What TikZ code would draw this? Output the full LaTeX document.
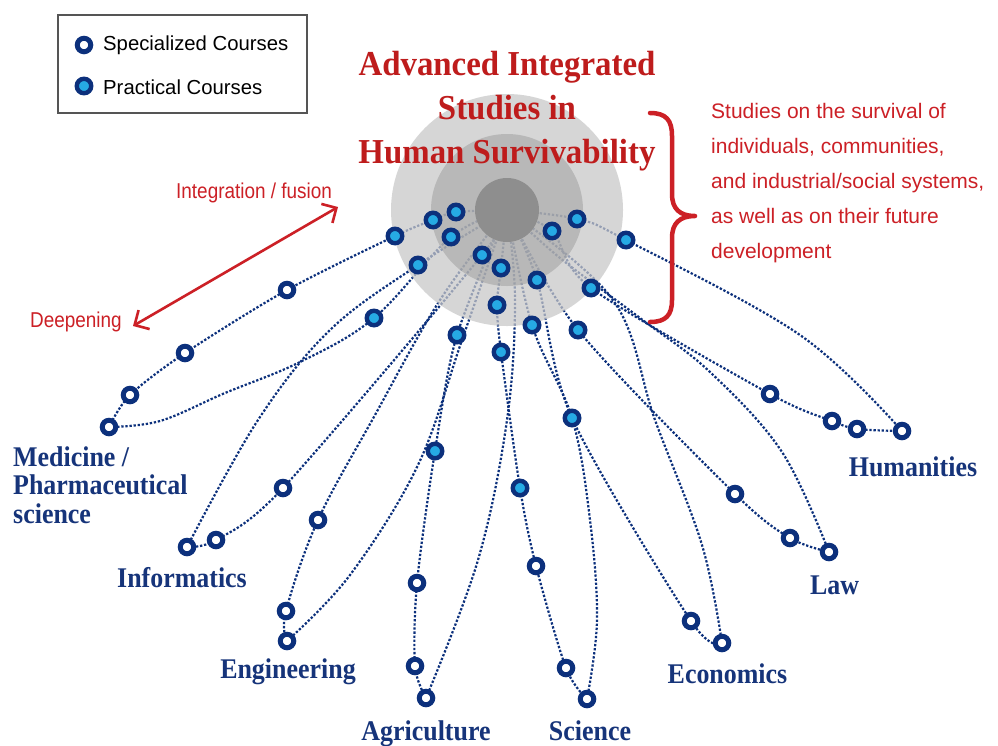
\documentclass[tikz,border=0pt]{standalone}
\usepackage{fontspec}
\setmainfont{Liberation Sans}
\newfontfamily\labelfont[FakeStretch=0.91]{Liberation Serif}
\newfontfamily\titlefont[FakeStretch=0.94]{Liberation Serif}
\newfontfamily\condfont[FakeStretch=0.88]{Liberation Sans}
\usetikzlibrary{arrows.meta}
\pgfdeclarelayer{lines}
\pgfdeclarelayer{discs}
\pgfsetlayers{lines,discs,main}
\definecolor{navy}{RGB}{12,48,124}
\definecolor{lblue}{RGB}{38,170,228}
\definecolor{labnavy}{RGB}{22,52,122}
\definecolor{redtxt}{RGB}{204,32,38}
\definecolor{titlered}{RGB}{190,28,28}
\definecolor{discA}{RGB}{200,200,200}
\definecolor{discB}{RGB}{160,160,160}
\definecolor{discC}{RGB}{142,142,142}
\definecolor{framegray}{RGB}{85,85,85}
\tikzset{
  spec/.style={circle, draw=navy, fill=white, line width=5pt, minimum size=13.5pt, inner sep=0pt},
  prac/.style={circle, draw=navy, fill=lblue, line width=4.4pt, minimum size=14.5pt, inner sep=0pt},
  strand/.style={draw=navy, line width=2.2pt, dash pattern=on 2.3pt off 1.8pt},
  disclabel/.style={text=labnavy, font={\labelfont\bfseries\fontsize{28.5}{28.5}\selectfont}, inner sep=0pt},
  legtext/.style={font={\fontsize{20.3}{24}\selectfont}, text=black, inner sep=0pt, anchor=west},
  redlab/.style={text=redtxt, font={\condfont\fontsize{21.5}{24}\selectfont}, inner sep=0pt, anchor=base west},
}
\begin{document}
\begin{tikzpicture}[x=1pt,y=-1pt]
\useasboundingbox (0,0) rectangle (998,745);
\coordinate (C) at (507,210);

% ---------- legend ----------
\draw[framegray, line width=1.5pt] (58,15) rectangle (307,113);
\node[spec] (LS) at (84,45) {};
\node[prac] (LP) at (84,86) {};
\node[legtext] (LSt) at (103,45.5) {Specialized Courses};
\node[legtext] (LPt) at (103,87) {Practical Courses};

% ---------- practical course nodes ----------
\node[prac] (P1) at (395,236) {};
\node[prac] (P2) at (433,220) {};
\node[prac] (P3) at (456,212) {};
\node[prac] (P4) at (451,237) {};
\node[prac] (P5) at (418,265) {};
\node[prac] (P6) at (482,255) {};
\node[prac] (P7) at (501,268) {};
\node[prac] (P8) at (497,305) {};
\node[prac] (P9) at (374,318) {};
\node[prac] (P10) at (457,335) {};
\node[prac] (P11) at (501,352) {};
\node[prac] (P12) at (537,280) {};
\node[prac] (P13) at (552,231) {};
\node[prac] (P14) at (577,219) {};
\node[prac] (P15) at (626,240) {};
\node[prac] (P16) at (591,288) {};
\node[prac] (P17) at (532,325) {};
\node[prac] (P18) at (578,330) {};
\node[prac] (P19) at (435,451) {};
\node[prac] (P20) at (520,488) {};
\node[prac] (P21) at (572,418) {};

% ---------- specialized course nodes ----------
\node[spec] (M1) at (287,290) {};
\node[spec] (M2) at (185,353) {};
\node[spec] (M3) at (130,395) {};
\node[spec] (M4) at (109,427) {};
\node[spec] (I1) at (283,488) {};
\node[spec] (I2) at (216,540) {};
\node[spec] (I3) at (187,547) {};
\node[spec] (E1) at (318,520) {};
\node[spec] (E2) at (286,611) {};
\node[spec] (E3) at (287,641) {};
\node[spec] (A1) at (417,583) {};
\node[spec] (A2) at (415,666) {};
\node[spec] (A3) at (426,698) {};
\node[spec] (S1) at (536,566) {};
\node[spec] (S2) at (566,668) {};
\node[spec] (S3) at (587,699) {};
\node[spec] (Ec1) at (691,621) {};
\node[spec] (Ec2) at (722,643) {};
\node[spec] (L1) at (735,494) {};
\node[spec] (L2) at (790,538) {};
\node[spec] (L3) at (829,552) {};
\node[spec] (H1) at (770,394) {};
\node[spec] (H2) at (832,421) {};
\node[spec] (H3) at (857,429) {};
\node[spec] (H4) at (902,431) {};

% ---------- strands ----------
\begin{pgfonlayer}{lines}
\fill[white] (0,0) rectangle (998,745);
% Medicine
\draw[strand] plot[smooth, tension=0.5] coordinates {(C) (P3.center) (P2.center) (P1.center) (M1.center) (M2.center) (M3.center) (M4.center)};
\draw[strand] plot[smooth, tension=0.6] coordinates {(M4.center) (160,421) (225,393) (300,362) (P9.center) (P4.center) (C)};
% Informatics
\draw[strand] plot[smooth, tension=0.5] coordinates {(C) (P6.center) (I1.center) (I2.center) (I3.center)};
\draw[strand] plot[smooth, tension=0.6] coordinates {(I3.center) (258,420) (330,330) (P5.center) (C)};
% Engineering
\draw[strand] plot[smooth, tension=0.6] coordinates {(C) (440,300) (375,415) (E1.center) (E2.center) (E3.center)};
\draw[strand] plot[smooth, tension=0.6] coordinates {(E3.center) (350,575) (418,465) (462,340) (C)};
% Agriculture
\draw[strand] plot[smooth, tension=0.5] coordinates {(C) (P10.center) (P19.center) (A1.center) (A2.center) (A3.center)};
\draw[strand] plot[smooth, tension=0.6] coordinates {(A3.center) (478,560) (507,420) (515,300) (C)};
% Science
\draw[strand] plot[smooth, tension=0.5] coordinates {(C) (P7.center) (P8.center) (P11.center) (P20.center) (S1.center) (S2.center) (S3.center)};
\draw[strand] plot[smooth, tension=0.6] coordinates {(S3.center) (597,620) (590,520) (P21.center) (P17.center) (C)};
% Economics
\draw[strand] plot[smooth, tension=0.5] coordinates {(C) (P12.center) (P21.center) (Ec1.center) (Ec2.center)};
\draw[strand] plot[smooth, tension=0.6] coordinates {(Ec2.center) (702,545) (655,420) (613,300) (C)};
% Law
\draw[strand] plot[smooth, tension=0.5] coordinates {(C) (P18.center) (L1.center) (L2.center) (L3.center)};
\draw[strand] plot[smooth, tension=0.6] coordinates {(C) (560,258) (640,318) (710,372) (782,452) (L3.center)};
% Humanities
\draw[strand] plot[smooth, tension=0.6] coordinates {(C) (P14.center) (P15.center) (800,335) (H4.center)};
\draw[strand] plot[smooth, tension=0.5] coordinates {(C) (P13.center) (P16.center) (H1.center) (H2.center) (H3.center) (H4.center)};
\end{pgfonlayer}

% ---------- concentric discs ----------
\begin{pgfonlayer}{discs}
\fill[discA, opacity=0.73] (C) circle[radius=116];
\fill[discB, opacity=0.55] (C) circle[radius=76];
\fill[discC] (C) circle[radius=32];
\end{pgfonlayer}

% ---------- title ----------
\node[anchor=north, align=center, text=titlered, inner sep=0pt,
      font={\titlefont\bfseries\fontsize{35}{44}\selectfont}] (title) at (507,51.5)
      {Advanced Integrated\\Studies in\\Human Survivability};

% ---------- brace and description ----------
\draw[redtxt, line width=4.5pt, line cap=round, line join=round]
  (650,113) .. controls (666,113) and (672,120) .. (672,136) -- (672,194)
  .. controls (672,209) and (680,216) .. (695,216)
  .. controls (680,216) and (672,223) .. (672,238) -- (672,300)
  .. controls (672,315) and (666,322) .. (650,322);
\node[anchor=north west, align=left, text=redtxt, inner sep=0pt,
      font={\fontsize{21}{35}\selectfont}] (desc) at (711,103)
      {Studies on the survival of\\individuals, communities,\\and industrial/social systems,\\as well as on their future\\development};

% ---------- deepening / fusion arrow ----------
\coordinate (dTip) at (133,326);
\coordinate (fTip) at (338,207);
\draw[redtxt, line width=2.6pt, {Straight Barb[length=11pt,width=22pt]}-{Straight Barb[length=11pt,width=22pt]}] (dTip) -- (fTip);
\node[redlab] (fus) at (176,198) {Integration / fusion};
\node[redlab] (deep) at (30,327.5) {Deepening};

% ---------- discipline labels ----------
\node[disclabel, anchor=north west, align=left] (med) at (13,446.5) {Medicine /\\Pharmaceutical\\science};
\node[disclabel, anchor=base] (inf) at (182,587) {Informatics};
\node[disclabel, anchor=base] (eng) at (288,678) {Engineering};
\node[disclabel, anchor=base] (agr) at (426,740) {Agriculture};
\node[disclabel, anchor=base] (sci) at (590,740) {Science};
\node[disclabel, anchor=base] (eco) at (727.5,683) {Economics};
\node[disclabel, anchor=base] (law) at (834.5,594) {Law};
\node[disclabel, anchor=base] (hum) at (913,476) {Humanities};
\end{tikzpicture}
\end{document}
